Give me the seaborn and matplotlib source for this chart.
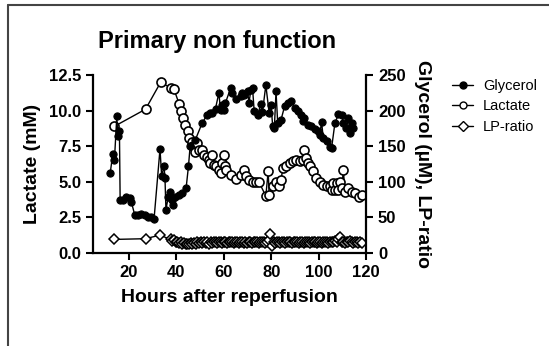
import matplotlib
matplotlib.use("Agg")
import matplotlib.pyplot as plt
import seaborn as sns
from matplotlib.lines import Line2D

# Glycerol (uM), right axis
gly_hours = [12.1, 13.2, 13.9, 14.9, 15.3, 16.0, 16.3, 17.4, 18.9, 20.3, 21.0, 22.4,
             23.8, 25.3, 26.7, 28.1, 29.5, 30.6, 33.1, 33.8, 34.8, 35.2, 35.6, 36.6,
             37.3, 38.0, 38.7, 39.4, 40.9, 42.3, 44.1, 45.1, 45.8, 48.0, 50.8, 52.9,
             54.0, 55.1, 56.5, 57.9, 58.6, 59.3, 60.0, 60.7, 62.9, 63.6, 65.0, 67.1,
             67.8, 68.5, 70.0, 70.6, 71.4, 72.1, 72.8, 74.2, 75.6, 76.3, 77.7, 79.1,
             79.9, 80.6, 81.3, 82.0, 82.7, 84.1, 85.6, 87.0, 88.4, 89.8, 91.2, 92.7,
             93.4, 94.0, 95.5, 96.9, 98.3, 99.7, 100.4, 101.2, 101.9, 103.3, 104.7,
             105.4, 106.8, 108.3, 109.7, 110.4, 111.7, 112.5, 113.2, 113.9, 114.6]
glycerol = [112, 139, 131, 192, 164, 171, 75, 75, 79, 77, 72, 54,
            54, 55, 54, 51, 50, 48, 146, 108, 122, 105, 61, 79,
            86, 75, 68, 79, 82, 84, 91, 122, 150, 159, 182, 194,
            196, 197, 203, 225, 201, 208, 201, 211, 232, 225, 216, 220,
            225, 222, 227, 211, 229, 232, 199, 194, 209, 198, 236, 197,
            208, 178, 176, 227, 183, 187, 206, 211, 213, 204, 200, 194,
            185, 190, 180, 178, 174, 172, 166, 184, 162, 157, 149,
            147, 182, 195, 194, 183, 176, 190, 168, 183, 175]

# Lactate (mM), left axis
lac_hours = [13.9, 27.0, 33.4, 37.6, 39.0, 41.1, 42.0, 43.0, 43.8, 44.7, 45.5, 46.5,
             47.2, 48.0, 48.7, 49.4, 50.8, 51.5, 52.9, 53.6, 54.3, 55.0, 55.7, 56.5,
             57.9, 58.6, 59.3, 60.0, 60.7, 61.1, 62.9, 65.0, 67.1, 68.5, 69.2, 70.6,
             72.1, 73.5, 74.9, 77.7, 78.7, 79.1, 80.6, 82.0, 83.4, 84.1, 84.9, 86.3,
             87.7, 89.1, 90.5, 91.9, 93.4, 94.0, 94.8, 95.5, 96.2, 97.6, 99.0, 100.4,
             101.9, 103.3, 104.7, 105.4, 106.1, 106.8, 107.5, 108.3, 108.9, 109.7,
             110.4, 111.0, 112.5, 113.9, 115.3, 116.8, 118.2]
lactate = [8.9, 10.1, 12.0, 11.6, 11.5, 10.5, 9.95, 9.45, 9.0, 8.55, 8.1, 7.8,
           7.5, 7.1, 7.7, 7.25, 7.25, 6.9, 6.75, 6.55, 6.3, 6.85, 6.2, 6.1,
           5.85, 5.6, 6.3, 6.9, 6.1, 5.85, 5.5, 5.2, 5.45, 5.85, 5.4, 5.15,
           5.0, 5.0, 4.95, 4.0, 5.75, 4.05, 4.7, 5.0, 4.7, 5.15, 5.95, 6.1,
           6.3, 6.45, 6.55, 6.45, 6.55, 7.2, 6.65, 6.3, 6.1, 5.75, 5.25, 5.0,
           4.8, 4.7, 4.7, 4.45, 4.9, 4.45, 4.9, 4.45, 5.0, 4.55,
           5.85, 4.3, 4.55, 4.3, 4.2, 3.95, 4.1]

# LP-ratio, right axis
lp_hours = [13.9, 27.0, 33.0, 37.6, 38.3, 39.0, 39.7, 40.4, 41.1, 41.8, 42.5, 43.2,
            43.9, 44.6, 45.3, 46.0, 46.7, 47.4, 48.1, 48.8, 49.5, 50.2, 50.9, 51.6,
            52.3, 53.0, 53.7, 54.4, 55.1, 55.8, 56.5, 57.2, 57.9, 58.6, 59.3, 60.0,
            60.7, 61.4, 62.1, 62.8, 63.5, 64.2, 64.9, 65.6, 66.3, 67.0, 67.7, 68.4,
            69.1, 69.8, 70.5, 71.2, 71.9, 72.6, 73.3, 74.0, 74.7, 75.4, 76.1, 76.8,
            77.5, 78.2, 78.9, 79.6, 80.3, 81.0, 81.7, 82.4, 83.1, 83.8, 84.5, 85.2,
            85.9, 86.6, 87.3, 88.0, 88.7, 89.4, 90.1, 90.8, 91.5, 92.2, 92.9, 93.6,
            94.3, 95.0, 95.7, 96.4, 97.1, 97.8, 98.5, 99.2, 99.9, 100.6, 101.3, 102.0,
            102.7, 103.4, 104.1, 104.8, 105.5, 106.2, 106.9, 107.6, 108.3, 109.0,
            109.7, 110.4, 111.1, 111.8, 112.5, 113.2, 113.9, 114.6, 115.3, 116.0,
            116.7, 117.4, 118.2]
lp_ratio = [19, 20, 25, 19, 17, 18, 15, 16, 14, 15, 13, 14,
            12, 13, 12, 14, 13, 14, 13, 15, 14, 15, 14, 16,
            14, 15, 13, 15, 14, 16, 15, 14, 15, 16, 14, 15,
            16, 14, 15, 16, 15, 14, 16, 15, 14, 15, 16, 14,
            15, 14, 16, 15, 14, 15, 16, 15, 14, 15, 16, 15,
            14, 16, 18, 26, 10, 15, 14, 16, 15, 14, 15, 16,
            14, 15, 16, 15, 14, 15, 16, 15, 14, 15, 16, 14,
            15, 16, 15, 14, 15, 16, 15, 14, 15, 16, 14, 15,
            16, 15, 14, 15, 16, 15, 17, 15, 19, 23,
            16, 15, 14, 16, 15, 17, 15, 14, 15, 16,
            14, 15, 14]

sns.set_style("ticks")
plt.rcParams['font.family'] = ['Liberation Sans', 'DejaVu Sans']
plt.rcParams['axes.linewidth'] = 1.6
plt.rcParams['axes.edgecolor'] = 'black'
plt.rcParams['text.color'] = 'black'
plt.rcParams['axes.labelcolor'] = 'black'
plt.rcParams['xtick.color'] = 'black'
plt.rcParams['ytick.color'] = 'black'

fig = plt.figure(figsize=(5.49, 3.46), dpi=100)
ax = fig.add_axes([0.170, 0.269, 0.497, 0.514])
ax2 = ax.twinx()

sns.lineplot(x=lac_hours, y=lactate, ax=ax, sort=False, estimator=None,
             color='black', lw=1.0, marker='o', markersize=6.5,
             markerfacecolor='white', markeredgecolor='black', markeredgewidth=1.2)
sns.lineplot(x=gly_hours, y=glycerol, ax=ax2, sort=False, estimator=None,
             color='black', lw=1.0, marker='o', markersize=5.2,
             markerfacecolor='black', markeredgecolor='black')
sns.lineplot(x=lp_hours, y=lp_ratio, ax=ax2, sort=False, estimator=None,
             color='black', lw=1.0, marker='D', markersize=5.5,
             markerfacecolor='white', markeredgecolor='black', markeredgewidth=1.1)

ax.set_xlim(5, 120)
ax.set_ylim(0, 12.5)
ax2.set_ylim(0, 250)
ax.set_xticks([20, 40, 60, 80, 100, 120])
ax.set_yticks([0, 2.5, 5.0, 7.5, 10.0, 12.5])
ax.set_yticklabels(['0.0', '2.5', '5.0', '7.5', '10.0', '12.5'])
ax2.set_yticks([0, 50, 100, 150, 200, 250])

for a in (ax, ax2):
    a.tick_params(direction='out', length=5, width=1.5, labelsize=12, colors='black')
    for lab in a.get_xticklabels() + a.get_yticklabels():
        lab.set_fontweight('bold')
    a.spines['top'].set_visible(False)
ax.spines['right'].set_visible(False)
ax2.spines['left'].set_visible(False)
ax2.spines['bottom'].set_visible(False)

ax.set_xlabel('Hours after reperfusion', fontsize=14, fontweight='bold', labelpad=7)
ax.set_ylabel('Lactate (mM)', fontsize=14, fontweight='bold', labelpad=6)
ax2.set_ylabel('Glycerol (µM), LP-ratio', fontsize=14, fontweight='bold',
               rotation=-90, labelpad=18)

fig.text(0.396, 0.862, 'Primary non function', fontsize=17, fontweight='bold',
         ha='center', va='baseline')

handles = [
    Line2D([], [], color='black', lw=1.0, marker='o', markersize=5,
           markerfacecolor='black'),
    Line2D([], [], color='black', lw=1.0, marker='o', markersize=5,
           markerfacecolor='white'),
    Line2D([], [], color='black', lw=1.0, marker='D', markersize=5,
           markerfacecolor='white'),
]
fig.legend(handles, ['Glycerol', 'Lactate', 'LP-ratio'], loc='upper left',
           bbox_to_anchor=(0.80, 0.81), frameon=False, fontsize=10.5,
           handlelength=1.4, handletextpad=0.7, labelspacing=0.45)

# page border from the cropped source
fig.add_artist(Line2D([7.5 / 549, 7.5 / 549], [0, 1 - 5 / 346], color='#444444',
                      lw=1.5, transform=fig.transFigure))
fig.add_artist(Line2D([7.5 / 549, 1], [1 - 5 / 346, 1 - 5 / 346], color='#444444',
                      lw=1.5, transform=fig.transFigure))

fig.savefig('out.png', dpi=100, facecolor='white')
